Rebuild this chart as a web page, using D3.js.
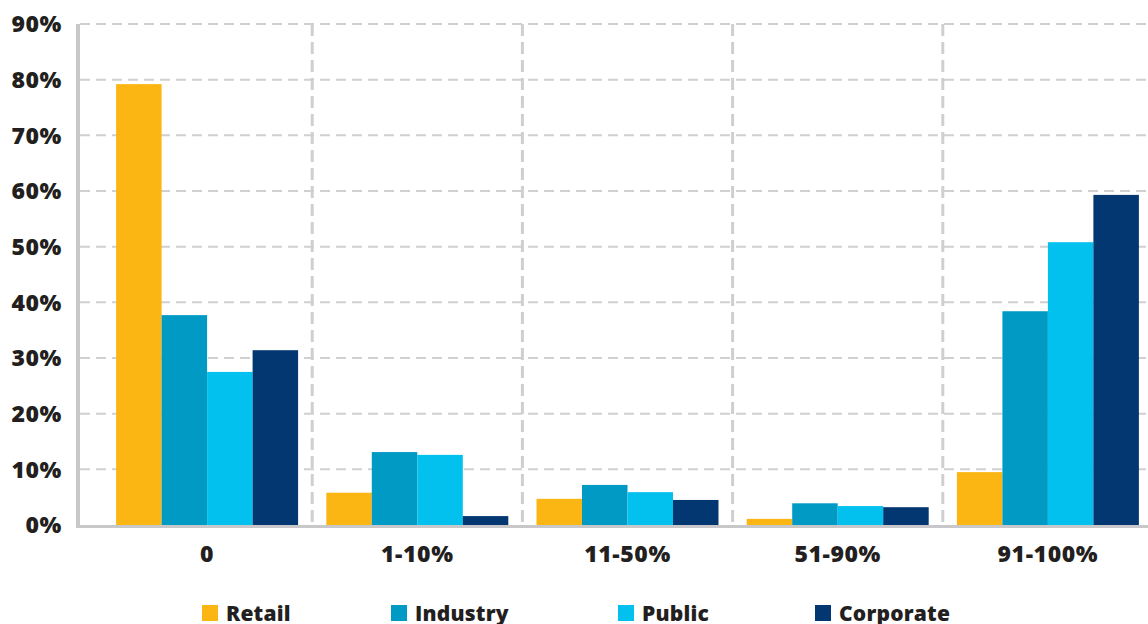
<!DOCTYPE html>
<html>
<head>
<meta charset="utf-8">
<script src="https://cdn.jsdelivr.net/npm/d3@7"></script>
<style>
  body { margin: 0; background: #fff; }
  svg { display: block; font-family: "Open Sans", sans-serif; font-weight: 800; }
</style>
</head>
<body>
<div id="chart"></div>
<script>
const categories = ["0", "1-10%", "11-50%", "51-90%", "91-100%"];
const seriesNames = ["Retail", "Industry", "Public", "Corporate"];
const retail = [79.2, 5.8, 4.7, 1.1, 9.5];
const industry = [37.7, 13.1, 7.2, 3.9, 38.4];
const publicSector = [27.5, 12.6, 5.9, 3.4, 50.8];
const corporate = [31.4, 1.6, 4.5, 3.2, 59.3];
const yTicks = [0, 10, 20, 30, 40, 50, 60, 70, 80, 90];
const colors = ["#fbb614", "#019ac5", "#03c1ef", "#033772"];

const series = [retail, industry, publicSector, corporate];

const width = 1148;
const height = 624;

const svg = d3.select("#chart").append("svg")
  .attr("width", width)
  .attr("height", height);

const y = d3.scaleLinear().domain([0, 90]).range([525, 24]);
const x0 = d3.scaleBand().domain(categories).range([102, 1153]);
const x1 = d3.scaleBand().domain(seriesNames)
  .range([0, x0.bandwidth()]).paddingOuter(0.31);

// horizontal gridlines
svg.append("g")
  .selectAll("line")
  .data(yTicks.slice(1))
  .join("line")
  .attr("x1", 80).attr("x2", width)
  .attr("y1", d => y(d)).attr("y2", d => y(d))
  .attr("stroke", "#d0d0d0")
  .attr("stroke-width", 2)
  .attr("stroke-dasharray", "10,6");

// vertical separators
svg.append("g")
  .selectAll("line")
  .data(categories.slice(1))
  .join("line")
  .attr("x1", d => x0(d)).attr("x2", d => x0(d))
  .attr("y1", y(90)).attr("y2", y(0) + 3)
  .attr("stroke", "#cfcfcf")
  .attr("stroke-width", 3)
  .attr("stroke-dasharray", "12,6");

// bars
svg.append("g")
  .selectAll("g")
  .data(categories)
  .join("g")
  .attr("transform", d => `translate(${x0(d)},0)`)
  .selectAll("rect")
  .data((d, i) => seriesNames.map((s, j) => ({ s, v: series[j][i], c: colors[j] })))
  .join("rect")
  .attr("x", d => x1(d.s))
  .attr("width", x1.bandwidth())
  .attr("y", d => y(d.v))
  .attr("height", d => y(0) - y(d.v))
  .attr("fill", d => d.c);

// axis lines
svg.append("line")
  .attr("x1", 78).attr("x2", 78)
  .attr("y1", y(90)).attr("y2", y(0) + 3)
  .attr("stroke", "#c8c8ca").attr("stroke-width", 4);
svg.append("line")
  .attr("x1", 76).attr("x2", width)
  .attr("y1", y(0) + 1.5).attr("y2", y(0) + 1.5)
  .attr("stroke", "#c8c8ca").attr("stroke-width", 3);

// y labels
svg.append("g")
  .selectAll("text")
  .data(yTicks)
  .join("text")
  .attr("x", 62)
  .attr("y", d => y(d))
  .attr("dy", "0.36em")
  .attr("text-anchor", "end")
  .attr("font-size", 23)
  .attr("letter-spacing", 0.6)
  .attr("fill", "#231f20")
  .text(d => d + "%");

// x labels
svg.append("g")
  .selectAll("text")
  .data(categories)
  .join("text")
  .attr("x", d => x0(d) + x0.bandwidth() / 2)
  .attr("y", 562)
  .attr("text-anchor", "middle")
  .attr("font-size", 23)
  .attr("letter-spacing", 0.6)
  .attr("fill", "#231f20")
  .text(d => d);

// legend
const legendX = [202, 391, 618, 815];
const legend = svg.append("g")
  .selectAll("g")
  .data(seriesNames)
  .join("g")
  .attr("transform", (d, i) => `translate(${legendX[i]},605)`);
legend.append("rect")
  .attr("width", 16).attr("height", 16)
  .attr("fill", (d, i) => colors[i]);
legend.append("text")
  .attr("x", 24).attr("y", 16)
  .attr("font-size", 21)
  .attr("letter-spacing", 0.2)
  .attr("fill", "#231f20")
  .text(d => d);
</script>
</body>
</html>
